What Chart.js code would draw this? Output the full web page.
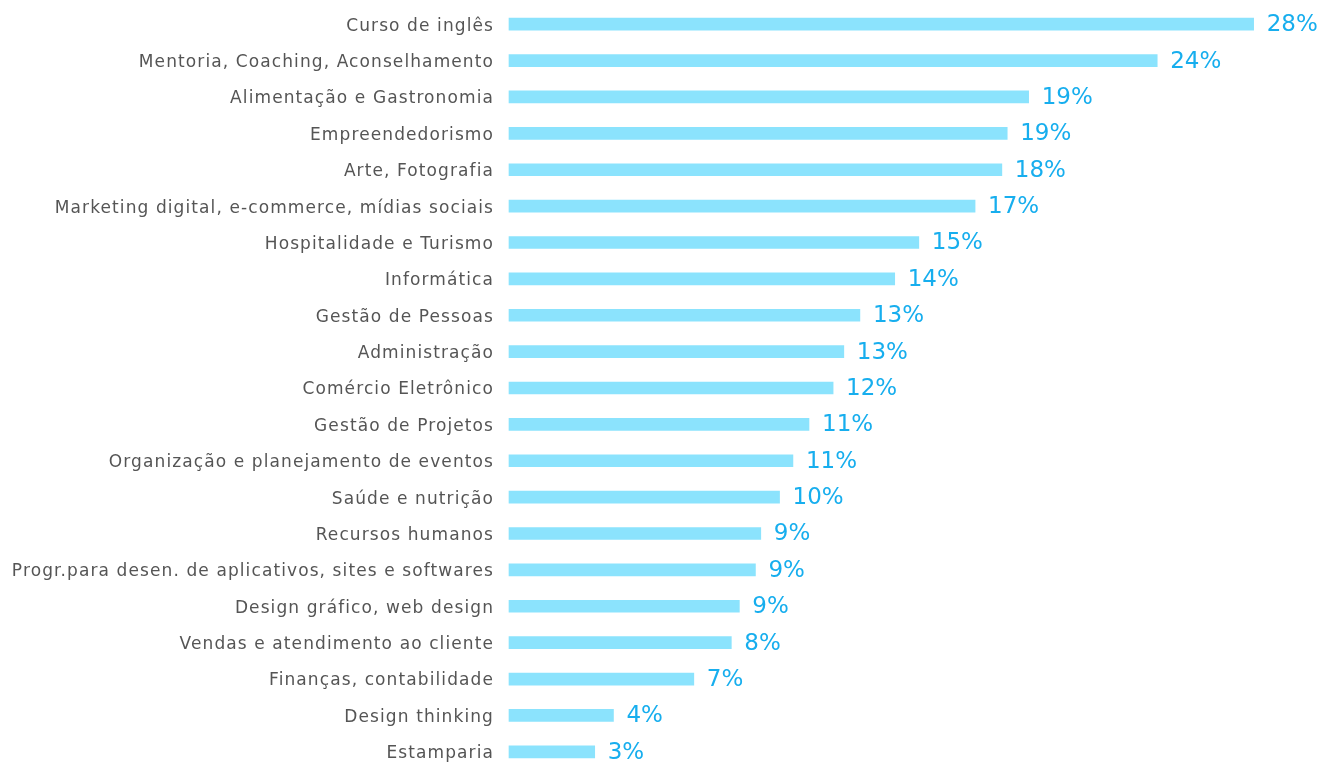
<!DOCTYPE html>
<html>
<head>
<meta charset="utf-8">
<script src="https://cdn.jsdelivr.net/npm/chart.js@4"></script>
<style>
  html, body { margin: 0; padding: 0; background: #fff; overflow: hidden; }
  #wrap { width: 1320px; height: 772px; position: relative; }
</style>
</head>
<body>
<div id="wrap"><canvas id="myChart"></canvas></div>
<script>
var categories = [
  'Curso de inglês',
  'Mentoria, Coaching, Aconselhamento',
  'Alimentação e Gastronomia',
  'Empreendedorismo',
  'Arte, Fotografia',
  'Marketing digital, e-commerce, mídias sociais',
  'Hospitalidade e Turismo',
  'Informática',
  'Gestão de Pessoas',
  'Administração',
  'Comércio Eletrônico',
  'Gestão de Projetos',
  'Organização e planejamento de eventos',
  'Saúde e nutrição',
  'Recursos humanos',
  'Progr.para desen. de aplicativos, sites e softwares',
  'Design gráfico, web design',
  'Vendas e atendimento ao cliente',
  'Finanças, contabilidade',
  'Design thinking',
  'Estamparia'
];
// percent of respondents (bar lengths)
var shares = [27.8, 24.2, 19.4, 18.6, 18.4, 17.4, 15.3, 14.4, 13.1, 12.5, 12.1,
              11.2, 10.6, 10.1, 9.4, 9.2, 8.6, 8.3, 6.9, 3.9, 3.2];

var ctx = document.getElementById('myChart').getContext('2d');

// wider letter spacing for the category names
var spacing = {
  id: 'spacing',
  beforeDraw: function (chart) { chart.ctx.letterSpacing = '1.1px'; },
  beforeDatasetsDraw: function (chart) { chart.ctx.letterSpacing = '0px'; }
};

// draws the "28%" style labels at the end of each bar
var valueLabels = {
  id: 'valueLabels',
  afterDatasetsDraw: function (chart) {
    var c = chart.ctx;
    var meta = chart.getDatasetMeta(0);
    c.save();
    c.font = '23px "DejaVu Sans", sans-serif';
    c.fillStyle = '#17aeee';
    c.textAlign = 'left';
    c.textBaseline = 'middle';
    meta.data.forEach(function (bar, i) {
      c.fillText(Math.round(shares[i]) + '%', bar.x + 13, bar.y + 1);
    });
    c.restore();
  }
};

var myChart = new Chart(ctx, {
  type: 'bar',
  data: {
    labels: categories,
    datasets: [{
      data: shares,
      backgroundColor: '#8be3fd',
      borderWidth: 0,
      barThickness: 12,
      clip: false
    }]
  },
  options: {
    indexAxis: 'y',
    responsive: true,
    maintainAspectRatio: false,
    animation: false,
    layout: { padding: { top: 6, bottom: 2, right: 61, left: 0 } },
    plugins: {
      legend: { display: false },
      tooltip: { enabled: false }
    },
    scales: {
      x: {
        min: 0,
        max: 28,
        display: false,
        grid: { display: false }
      },
      y: {
        offset: true,
        grid: { display: false },
        border: { display: false },
        afterFit: function (scale) {
          scale.width = 509;
          scale.paddingTop = 0;
          scale.paddingBottom = 0;
        },
        ticks: {
          color: '#555555',
          padding: 7,
          labelOffset: 2,
          autoSkip: false,
          font: { family: '"DejaVu Sans", sans-serif', size: 17 }
        }
      }
    }
  },
  plugins: [spacing, valueLabels]
});
</script>
</body>
</html>
